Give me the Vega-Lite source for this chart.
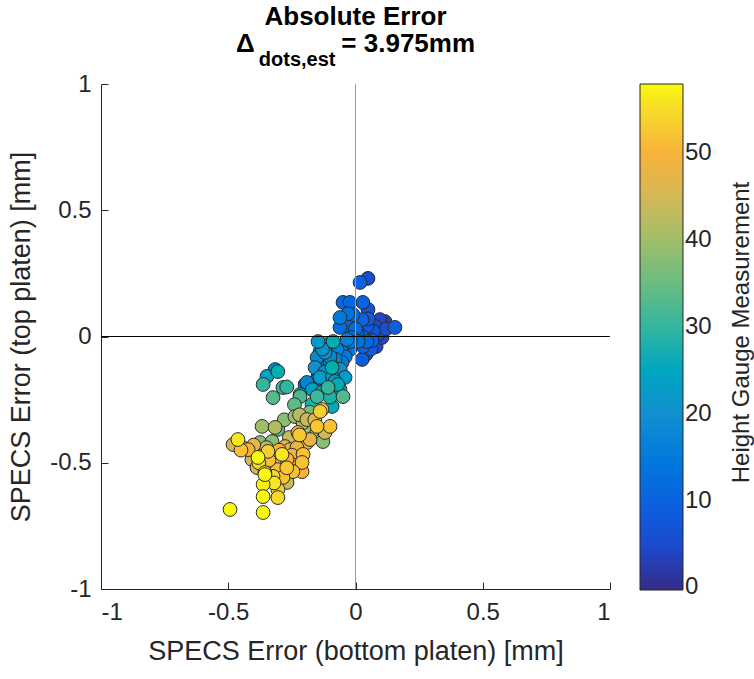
{
  "$schema": "https://vega.github.io/schema/vega-lite/v6.json",
  "width": 509,
  "height": 505,
  "autosize": {"type": "none"},
  "padding": {"left": 101, "top": 84, "right": 144, "bottom": 90},
  "background": "white",
  "config": {
    "font": "Liberation Sans",
    "view": {"stroke": null},
    "axis": {
      "grid": false,
      "domainColor": "#262626",
      "tickColor": "#262626",
      "labelColor": "#262626",
      "titleColor": "#262626",
      "labelFontSize": 24,
      "titleFontSize": 27,
      "titleFontWeight": "normal",
      "tickSize": -7,
      "domainWidth": 1,
      "tickWidth": 1,
      "labelExpr": "replace(datum.label, '\u2212', '-')"
    },
    "legend": {
      "padding": 0,
      "gradientLength": 506,
      "gradientThickness": 43,
      "gradientStrokeColor": "#262626",
      "gradientStrokeWidth": 1,
      "labelFontSize": 24,
      "labelColor": "#262626",
      "labelOffset": 13
    }
  },
  "title": {
    "text": ["Absolute Error", "Δ\u00a0\u00a0\u00a0\u00a0\u00a0\u00a0\u00a0\u00a0\u00a0\u00a0\u00a0\u00a0= 3.975mm"],
    "subtitle": "dots,est\u00a0\u00a0\u00a0\u00a0\u00a0\u00a0\u00a0\u00a0\u00a0\u00a0\u00a0\u00a0\u00a0\u00a0\u00a0\u00a0\u00a0\u00a0\u00a0\u00a0\u00a0\u200b",
    "fontSize": 26,
    "fontWeight": "bold",
    "color": "#000000",
    "lineHeight": 27,
    "subtitleFontSize": 20,
    "subtitleFontWeight": "bold",
    "subtitleColor": "#000000",
    "subtitlePadding": -7,
    "anchor": "middle",
    "offset": 2
  },
  "data": {
    "values": [
      {"bx": 0.116, "ty": 0.059, "h": 3},
      {"bx": 0.096, "ty": 0.067, "h": 4},
      {"bx": 0.081, "ty": -0.040, "h": 4},
      {"bx": 0.104, "ty": -0.004, "h": 4},
      {"bx": 0.049, "ty": 0.230, "h": 5},
      {"bx": 0.077, "ty": 0.040, "h": 5},
      {"bx": 0.090, "ty": 0.010, "h": 5},
      {"bx": 0.057, "ty": 0.008, "h": 6},
      {"bx": 0.120, "ty": 0.030, "h": 6},
      {"bx": 0.049, "ty": 0.107, "h": 7},
      {"bx": 0.041, "ty": -0.071, "h": 7},
      {"bx": 0.070, "ty": 0.020, "h": 7},
      {"bx": 0.045, "ty": 0.040, "h": 8},
      {"bx": 0.050, "ty": 0.070, "h": 8},
      {"bx": 0.155, "ty": 0.036, "h": 9},
      {"bx": 0.026, "ty": 0.000, "h": 9},
      {"bx": 0.026, "ty": -0.091, "h": 9},
      {"bx": 0.060, "ty": -0.050, "h": 9},
      {"bx": 0.018, "ty": 0.214, "h": 10},
      {"bx": 0.029, "ty": 0.135, "h": 10},
      {"bx": 0.026, "ty": 0.067, "h": 10},
      {"bx": 0.065, "ty": -0.016, "h": 10},
      {"bx": 0.030, "ty": -0.040, "h": 10},
      {"bx": -0.049, "ty": 0.135, "h": 11},
      {"bx": -0.022, "ty": 0.135, "h": 11},
      {"bx": -0.029, "ty": 0.040, "h": 11},
      {"bx": 0.045, "ty": -0.020, "h": 11},
      {"bx": -0.010, "ty": 0.087, "h": 12},
      {"bx": -0.061, "ty": 0.036, "h": 12},
      {"bx": 0.006, "ty": 0.020, "h": 12},
      {"bx": 0.000, "ty": 0.030, "h": 12},
      {"bx": -0.014, "ty": -0.004, "h": 13},
      {"bx": 0.010, "ty": -0.020, "h": 13},
      {"bx": -0.030, "ty": 0.090, "h": 13},
      {"bx": -0.022, "ty": -0.051, "h": 14},
      {"bx": -0.053, "ty": -0.059, "h": 14},
      {"bx": -0.198, "ty": -0.190, "h": 14},
      {"bx": -0.020, "ty": -0.020, "h": 14},
      {"bx": -0.061, "ty": 0.075, "h": 15},
      {"bx": -0.040, "ty": -0.080, "h": 15},
      {"bx": -0.033, "ty": -0.012, "h": 16},
      {"bx": -0.053, "ty": -0.103, "h": 16},
      {"bx": -0.147, "ty": -0.158, "h": 16},
      {"bx": -0.073, "ty": -0.051, "h": 17},
      {"bx": -0.120, "ty": -0.119, "h": 17},
      {"bx": -0.316, "ty": -0.131, "h": 17},
      {"bx": -0.080, "ty": -0.090, "h": 17},
      {"bx": -0.160, "ty": -0.180, "h": 17},
      {"bx": -0.100, "ty": -0.103, "h": 18},
      {"bx": -0.073, "ty": -0.150, "h": 18},
      {"bx": -0.191, "ty": -0.182, "h": 18},
      {"bx": -0.139, "ty": -0.059, "h": 19},
      {"bx": -0.151, "ty": -0.083, "h": 19},
      {"bx": -0.100, "ty": -0.080, "h": 19},
      {"bx": -0.112, "ty": -0.032, "h": 20},
      {"bx": -0.120, "ty": -0.063, "h": 20},
      {"bx": -0.159, "ty": -0.123, "h": 20},
      {"bx": -0.060, "ty": -0.130, "h": 20},
      {"bx": -0.130, "ty": -0.050, "h": 21},
      {"bx": -0.120, "ty": -0.140, "h": 21},
      {"bx": -0.147, "ty": -0.020, "h": 22},
      {"bx": -0.112, "ty": -0.198, "h": 22},
      {"bx": -0.041, "ty": -0.162, "h": 22},
      {"bx": -0.139, "ty": -0.162, "h": 23},
      {"bx": -0.090, "ty": -0.160, "h": 23},
      {"bx": -0.081, "ty": -0.178, "h": 24},
      {"bx": -0.348, "ty": -0.158, "h": 24},
      {"bx": -0.170, "ty": -0.210, "h": 24},
      {"bx": -0.061, "ty": -0.210, "h": 25},
      {"bx": -0.092, "ty": -0.277, "h": 26},
      {"bx": -0.070, "ty": -0.190, "h": 26},
      {"bx": -0.088, "ty": -0.020, "h": 27},
      {"bx": -0.130, "ty": -0.220, "h": 27},
      {"bx": -0.092, "ty": -0.123, "h": 28},
      {"bx": -0.305, "ty": -0.139, "h": 28},
      {"bx": -0.218, "ty": -0.230, "h": 28},
      {"bx": -0.171, "ty": -0.269, "h": 29},
      {"bx": -0.100, "ty": -0.240, "h": 29},
      {"bx": -0.108, "ty": -0.202, "h": 30},
      {"bx": -0.285, "ty": -0.202, "h": 30},
      {"bx": -0.363, "ty": -0.190, "h": 30},
      {"bx": -0.270, "ty": -0.200, "h": 30},
      {"bx": -0.151, "ty": -0.238, "h": 31},
      {"bx": -0.218, "ty": -0.238, "h": 32},
      {"bx": -0.049, "ty": -0.238, "h": 33},
      {"bx": -0.324, "ty": -0.242, "h": 33},
      {"bx": -0.305, "ty": -0.368, "h": 33},
      {"bx": -0.240, "ty": -0.270, "h": 34},
      {"bx": -0.180, "ty": -0.300, "h": 36},
      {"bx": -0.375, "ty": -0.420, "h": 38},
      {"bx": -0.328, "ty": -0.416, "h": 38},
      {"bx": -0.128, "ty": -0.416, "h": 38},
      {"bx": -0.280, "ty": -0.330, "h": 38},
      {"bx": -0.238, "ty": -0.317, "h": 40},
      {"bx": -0.367, "ty": -0.356, "h": 40},
      {"bx": -0.171, "ty": -0.376, "h": 40},
      {"bx": -0.200, "ty": -0.360, "h": 41},
      {"bx": -0.206, "ty": -0.341, "h": 42},
      {"bx": -0.316, "ty": -0.360, "h": 42},
      {"bx": -0.220, "ty": -0.310, "h": 42},
      {"bx": -0.442, "ty": -0.440, "h": 42},
      {"bx": -0.350, "ty": -0.440, "h": 42},
      {"bx": -0.191, "ty": -0.329, "h": 44},
      {"bx": -0.269, "ty": -0.578, "h": 44},
      {"bx": -0.260, "ty": -0.400, "h": 44},
      {"bx": -0.481, "ty": -0.428, "h": 45},
      {"bx": -0.407, "ty": -0.487, "h": 45},
      {"bx": -0.387, "ty": -0.519, "h": 45},
      {"bx": -0.120, "ty": -0.380, "h": 45},
      {"bx": -0.277, "ty": -0.436, "h": 46},
      {"bx": -0.190, "ty": -0.420, "h": 46},
      {"bx": -0.257, "ty": -0.448, "h": 47},
      {"bx": -0.160, "ty": -0.330, "h": 47},
      {"bx": -0.179, "ty": -0.408, "h": 48},
      {"bx": -0.230, "ty": -0.440, "h": 48},
      {"bx": -0.400, "ty": -0.430, "h": 48},
      {"bx": -0.250, "ty": -0.470, "h": 49},
      {"bx": -0.226, "ty": -0.380, "h": 50},
      {"bx": -0.308, "ty": -0.487, "h": 50},
      {"bx": -0.250, "ty": -0.507, "h": 50},
      {"bx": -0.269, "ty": -0.487, "h": 50},
      {"bx": -0.210, "ty": -0.535, "h": 50},
      {"bx": -0.422, "ty": -0.448, "h": 50},
      {"bx": -0.336, "ty": -0.515, "h": 50},
      {"bx": -0.300, "ty": -0.450, "h": 50},
      {"bx": -0.100, "ty": -0.356, "h": 52},
      {"bx": -0.206, "ty": -0.467, "h": 52},
      {"bx": -0.210, "ty": -0.499, "h": 52},
      {"bx": -0.308, "ty": -0.527, "h": 52},
      {"bx": -0.246, "ty": -0.535, "h": 52},
      {"bx": -0.285, "ty": -0.558, "h": 52},
      {"bx": -0.340, "ty": -0.490, "h": 52},
      {"bx": -0.450, "ty": -0.450, "h": 52},
      {"bx": -0.151, "ty": -0.356, "h": 53},
      {"bx": -0.220, "ty": -0.390, "h": 53},
      {"bx": -0.270, "ty": -0.520, "h": 53},
      {"bx": -0.132, "ty": -0.289, "h": 54},
      {"bx": -0.139, "ty": -0.297, "h": 54},
      {"bx": -0.305, "ty": -0.606, "h": 54},
      {"bx": -0.344, "ty": -0.455, "h": 54},
      {"bx": -0.324, "ty": -0.554, "h": 55},
      {"bx": -0.305, "ty": -0.638, "h": 55},
      {"bx": -0.380, "ty": -0.500, "h": 55},
      {"bx": -0.462, "ty": -0.408, "h": 56},
      {"bx": -0.356, "ty": -0.539, "h": 56},
      {"bx": -0.289, "ty": -0.467, "h": 56},
      {"bx": -0.320, "ty": -0.580, "h": 56},
      {"bx": -0.363, "ty": -0.586, "h": 57},
      {"bx": -0.383, "ty": -0.479, "h": 58},
      {"bx": -0.356, "ty": -0.547, "h": 58},
      {"bx": -0.363, "ty": -0.634, "h": 58},
      {"bx": -0.493, "ty": -0.685, "h": 58},
      {"bx": -0.363, "ty": -0.697, "h": 58}
    ]
  },
  "layer": [
    {
      "mark": {"type": "circle", "size": 190, "opacity": 1, "stroke": "#2a2a2a", "strokeWidth": 1},
      "encoding": {
        "x": {
          "field": "bx", "type": "quantitative",
          "scale": {"domain": [-1, 1], "nice": false, "zero": false},
          "axis": {"title": "SPECS Error (bottom platen) [mm]", "values": [-1, -0.5, 0, 0.5, 1], "labelPadding": 18, "titlePadding": 14, "format": "~g"}
        },
        "y": {
          "field": "ty", "type": "quantitative",
          "scale": {"domain": [-1, 1], "nice": false, "zero": false},
          "axis": {"title": "SPECS Error (top platen) [mm]", "values": [-1, -0.5, 0, 0.5, 1], "labelPadding": 17, "titlePadding": 14, "format": "~g"}
        },
        "color": {
          "field": "h", "type": "quantitative",
          "scale": {
            "domain": [-0.3, 5, 10, 20, 30, 40, 45, 50, 54, 58],
            "range": ["#352a87", "#1a4bd0", "#0a62e0", "#1190d0", "#33b6a0", "#9fbe6a", "#d4b857", "#f8b23c", "#f5cf2e", "#f9fb0e"]
          },
          "legend": {
            "title": null,
            "orient": "none",
            "legendX": 539,
            "legendY": 0,
            "values": [0, 10, 20, 30, 40, 50],
            "direction": "vertical",
            "type": "gradient"
          }
        }
      }
    },
    {
      "mark": {"type": "rule", "color": "#9a9a9a", "strokeWidth": 1},
      "encoding": {"x": {"datum": 0, "type": "quantitative"}}
    },
    {
      "mark": {"type": "rule", "color": "#000000", "strokeWidth": 1.2},
      "encoding": {
        "y": {
          "datum": 0, "type": "quantitative",
          "scale": {"domain": [-1, 1], "nice": false, "zero": false},
          "axis": {
            "orient": "right",
            "title": "Height Gauge Measurement",
            "labels": false,
            "ticks": false,
            "domain": false,
            "titleAngle": 270,
            "titleAlign": "center",
            "titleBaseline": "middle",
            "titleX": 131,
            "titleY": 248,
            "titleFontSize": 24
          }
        }
      }
    }
  ],
  "resolve": {"scale": {"y": "independent"}, "axis": {"y": "independent"}}
}
